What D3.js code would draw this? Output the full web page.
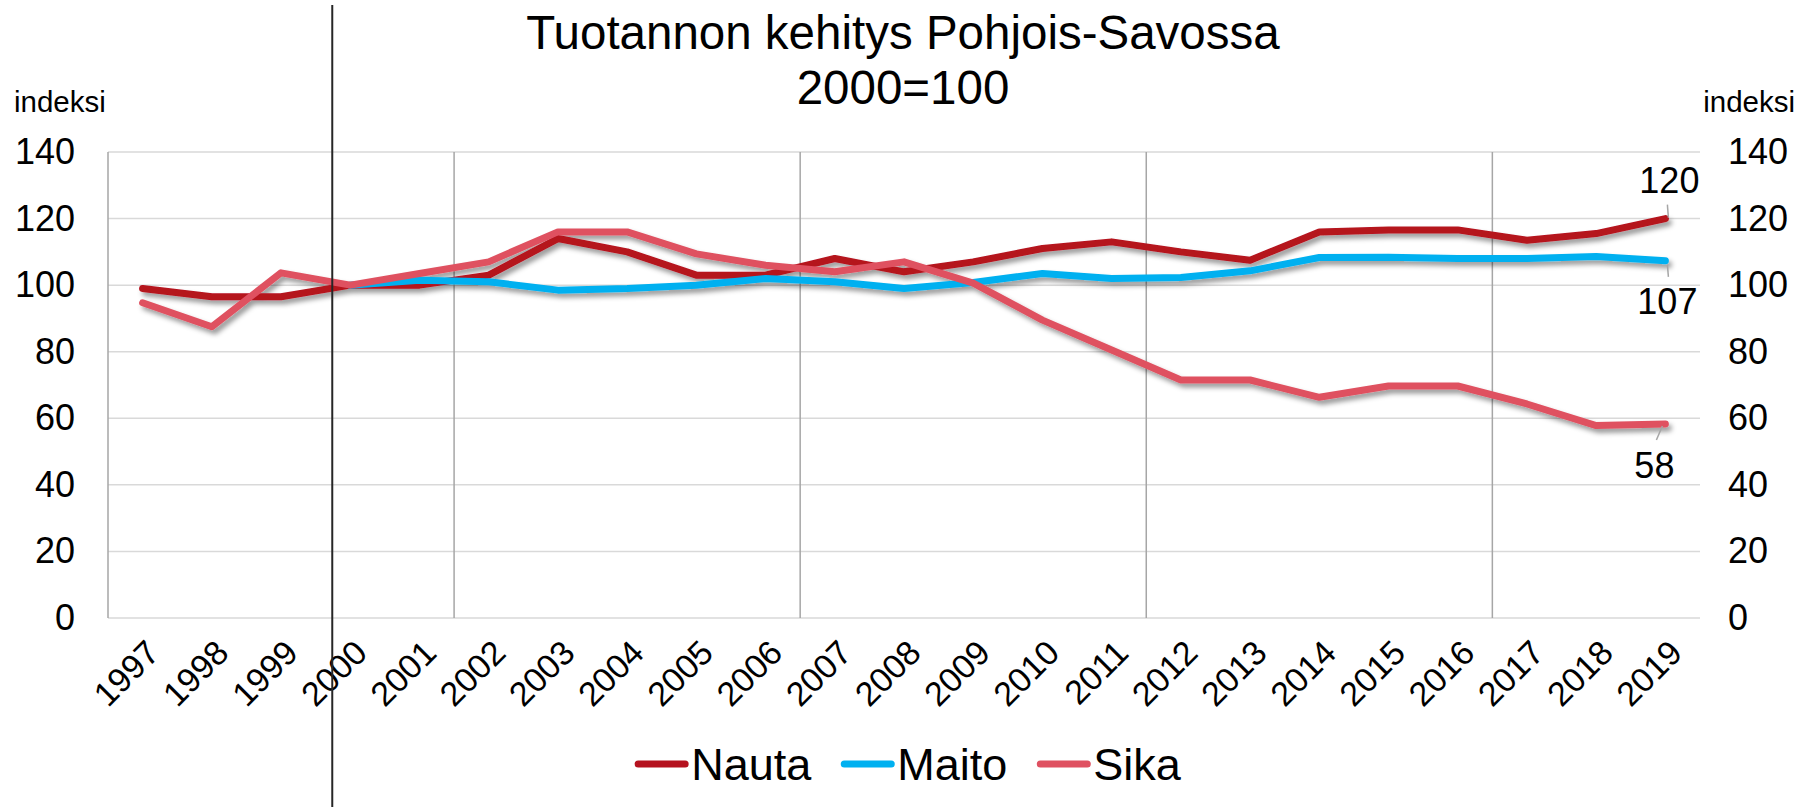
<!DOCTYPE html>
<html>
<head>
<meta charset="utf-8">
<script src="https://cdn.jsdelivr.net/npm/d3@7"></script>
<style>
  html, body { margin: 0; padding: 0; background: #fff; }
  svg { display: block; font-family: "Liberation Sans", Arial, sans-serif; }
</style>
</head>
<body>
<script>
// data
const years = ["1997", "1998", "1999", "2000", "2001", "2002", "2003", "2004", "2005", "2006", "2007", "2008",
  "2009", "2010", "2011", "2012", "2013", "2014", "2015", "2016", "2017", "2018", "2019"];
const nauta = [99, 96.5, 96.5, 100, 100, 103, 114, 110, 103, 103, 108, 104,
  107, 111, 113, 110, 107.5, 116, 116.6, 116.6, 113.5, 115.5, 120];
const maito = [null, null, null, 100, 101.5, 101, 98.5, 99, 100, 102, 101, 99,
  100.8, 103.5, 102, 102.3, 104.3, 108.3, 108.4, 108, 108, 108.6, 107.3];
const sika = [94.7, 87.5, 103.7, 100, 103.5, 107, 116, 116, 109.4, 106, 104, 107,
  100.6, 89.5, 80.5, 71.5, 71.5, 66.3, 69.7, 69.7, 64.3, 57.8, 58.3];
const yTicks = [0, 20, 40, 60, 80, 100, 120, 140];
const seriesNames = ["Nauta", "Maito", "Sika"];
const endLabels = ["120", "107", "58"];

const width = 1806, height = 807;
const margin = { left: 108, right: 106, top: 152, bottom: 189 };
const colors = { Nauta: "#B5121F", Maito: "#00B0F0", Sika: "#DF5161" };

const svg = d3.select("body").append("svg")
  .attr("width", width)
  .attr("height", height);

svg.append("rect").attr("width", width).attr("height", height).attr("fill", "#fff");

const defs = svg.append("defs");
const f = defs.append("filter").attr("id", "shadow")
  .attr("x", "-5%").attr("y", "-20%").attr("width", "110%").attr("height", "140%");
f.append("feDropShadow")
  .attr("dx", 3).attr("dy", 4).attr("stdDeviation", 2.5)
  .attr("flood-color", "#000").attr("flood-opacity", 0.4);

const x = d3.scaleBand()
  .domain(years)
  .range([margin.left, width - margin.right]);
const y = d3.scaleLinear()
  .domain([0, 140])
  .range([height - margin.bottom, margin.top]);

// horizontal gridlines
svg.append("g")
  .selectAll("line")
  .data(yTicks)
  .join("line")
  .attr("x1", margin.left)
  .attr("x2", width - margin.right)
  .attr("y1", (d) => y(d))
  .attr("y2", (d) => y(d))
  .attr("stroke", "#D9D9D9")
  .attr("stroke-width", 1.5);

// vertical gridlines every 5 categories
const vIdx = [0, 5, 10, 15, 20];
svg.append("g")
  .selectAll("line")
  .data(vIdx)
  .join("line")
  .attr("x1", (i) => x(years[i]))
  .attr("x2", (i) => x(years[i]))
  .attr("y1", y(140))
  .attr("y2", y(0))
  .attr("stroke", "#A6A6A6")
  .attr("stroke-width", 1.5);

// left axis labels
const yAxisL = d3.axisLeft(y).tickValues(yTicks).tickSize(0).tickPadding(33);
const gl = svg.append("g").attr("transform", `translate(${margin.left},0)`).call(yAxisL);
gl.select(".domain").remove();
gl.selectAll("text").attr("font-size", 36).attr("fill", "#000")
  .attr("font-family", "Liberation Sans, Arial, sans-serif");

// right axis labels
const yAxisR = d3.axisRight(y).tickValues(yTicks).tickSize(0).tickPadding(28);
const gr = svg.append("g").attr("transform", `translate(${width - margin.right},0)`).call(yAxisR);
gr.select(".domain").remove();
gr.selectAll("text").attr("font-size", 36).attr("fill", "#000")
  .attr("font-family", "Liberation Sans, Arial, sans-serif");

// x labels
const bw = x.bandwidth();
svg.append("g")
  .selectAll("text")
  .data(years)
  .join("text")
  .attr("transform", (d) => `translate(${x(d) + bw / 2 + 2},${y(0) + 20}) rotate(-45)`)
  .attr("text-anchor", "end")
  .attr("dy", "0.7em")
  .attr("font-size", 34)
  .text((d) => d);

// axis titles
svg.append("text").attr("x", 14).attr("y", 112).attr("font-size", 29.5).text("indeksi");
svg.append("text").attr("x", 1795).attr("y", 112).attr("text-anchor", "end").attr("font-size", 29.5).text("indeksi");

// title
svg.append("text").attr("x", 903).attr("y", 49).attr("text-anchor", "middle")
  .attr("font-size", 47.5).text("Tuotannon kehitys Pohjois-Savossa");
svg.append("text").attr("x", 903).attr("y", 104).attr("text-anchor", "middle")
  .attr("font-size", 47.5).text("2000=100");

// series
const series = [
  { name: "Nauta", values: nauta },
  { name: "Maito", values: maito },
  { name: "Sika", values: sika },
];
const line = d3.line()
  .defined((d) => d != null)
  .x((d, i) => x(years[i]) + bw / 2)
  .y((d) => y(d));

svg.append("g")
  .attr("filter", "url(#shadow)")
  .selectAll("path")
  .data(series)
  .join("path")
  .attr("d", (d) => line(d.values))
  .attr("fill", "none")
  .attr("stroke", (d) => colors[d.name])
  .attr("stroke-width", 7)
  .attr("stroke-linejoin", "round")
  .attr("stroke-linecap", "round");

// end labels with leader lines
const last = years.length - 1;
const lx = x(years[last]) + bw / 2;
const labelPos = [
  { dx: 4, dy: -26, l1: -14, l2: -1 },
  { dx: 2, dy: 53, l1: 4, l2: 16 },
  { dx: -11, dy: 54, l1: 2, l2: 16 },
];
series.forEach((s, k) => {
  const py = y(s.values[last]);
  const p = labelPos[k];
  svg.append("line")
    .attr("x1", lx + (k === 2 ? -3 : 2)).attr("x2", lx + (k === 2 ? -9 : 3))
    .attr("y1", py + p.l1).attr("y2", py + p.l2)
    .attr("stroke", "#A6A6A6").attr("stroke-width", 1.5);
  svg.append("text")
    .attr("x", lx + p.dx).attr("y", py + p.dy)
    .attr("text-anchor", "middle")
    .attr("font-size", 36)
    .text(endLabels[k]);
});

// 2000 marker line
svg.append("line")
  .attr("x1", x("2000") + bw * 0.24).attr("x2", x("2000") + bw * 0.24)
  .attr("y1", 5).attr("y2", height)
  .attr("stroke", "#262626").attr("stroke-width", 2);

// legend
const leg = svg.append("g");
let cx = 0;
seriesNames.forEach((n) => {
  const g = leg.append("g").attr("transform", `translate(${cx},0)`);
  g.append("line").attr("x1", 3).attr("x2", 50).attr("y1", 0).attr("y2", 0)
    .attr("stroke", colors[n]).attr("stroke-width", 7).attr("stroke-linecap", "round");
  const t = g.append("text").attr("x", 56).attr("y", 16).attr("font-size", 45).text(n);
  cx += 56 + t.node().getComputedTextLength() + 30;
});
cx -= 30;
leg.attr("transform", `translate(${908 - cx / 2},764)`);
</script>
</body>
</html>
